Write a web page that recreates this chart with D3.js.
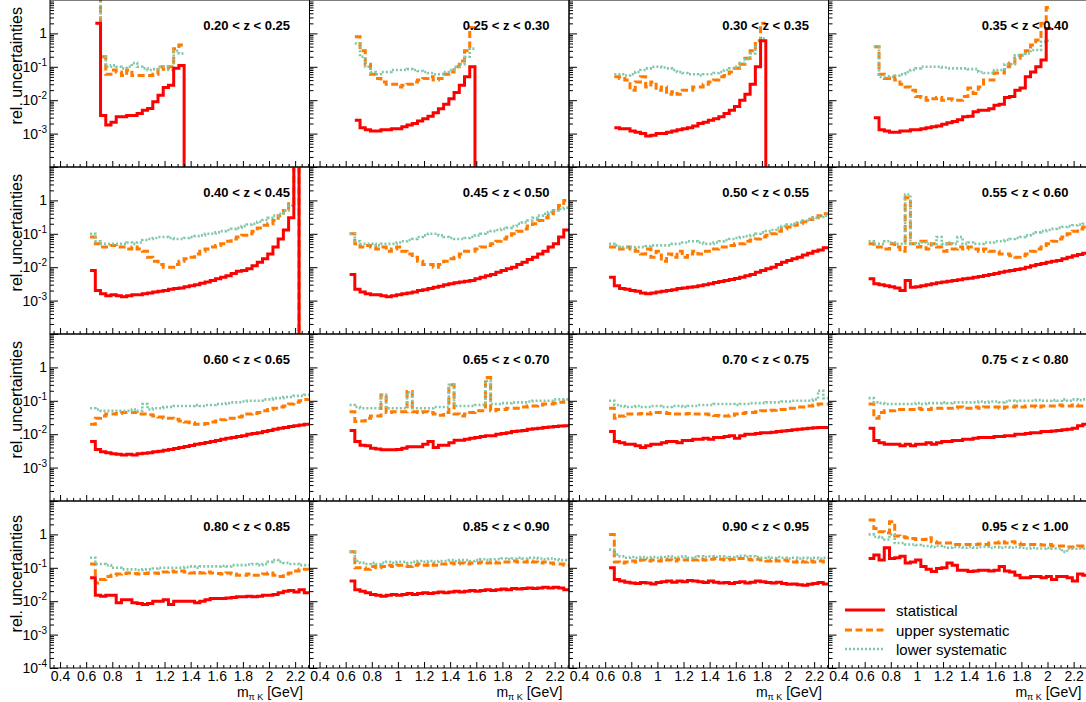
<!DOCTYPE html>
<html><head><meta charset="utf-8">
<script src="https://cdn.jsdelivr.net/npm/d3@7"></script>
<style>body{margin:0;background:#fff}svg{display:block}text{font-family:'Liberation Sans',Arial,Helvetica,sans-serif}</style>
</head><body>
<script>
// ---- data ----
const edges = [0.63,0.67,0.71,0.75,0.79,0.83,0.87,0.91,0.95,0.99,1.03,1.07,1.11,1.15,1.19,1.23,1.27,1.31,1.35,1.39,1.43,1.47,1.51,1.55,1.59,1.63,1.67,1.71,1.75,1.79,1.83,1.87,1.91,1.95,1.99,2.03,2.07,2.11,2.15,2.19,2.23,2.27,2.31];
const zLabels = ["0.20 < z < 0.25","0.25 < z < 0.30","0.30 < z < 0.35","0.35 < z < 0.40","0.40 < z < 0.45","0.45 < z < 0.50","0.50 < z < 0.55","0.55 < z < 0.60","0.60 < z < 0.65","0.65 < z < 0.70","0.70 < z < 0.75","0.75 < z < 0.80","0.80 < z < 0.85","0.85 < z < 0.90","0.90 < z < 0.95","0.95 < z < 1.00"];
const xTicks = [0.4,0.6,0.8,1.0,1.2,1.4,1.6,1.8,2.0,2.2];
const xTickLabels = ["0.4","0.6","0.8","1","1.2","1.4","1.6","1.8","2","2.2"];
const yTicks = [1,0.1,0.01,0.001,0.0001];
const yTickExp = ["","-1","-2","-3","-4"];
const legendLabels = ["statistical","upper systematic","lower systematic"];

const stat1 = [null,2.0,3.5e-3,1.8e-3,2.2e-3,3.2e-3,3.2e-3,3.5e-3,3.5e-3,4e-3,5e-3,5.6e-3,9e-3,1.4e-2,2.4e-2,2.8e-2,9e-2,0.11,1e-6];
const up1 = [null,20,0.2,0.06,0.08,0.07,0.055,0.08,0.055,0.055,0.055,0.055,0.06,0.1,0.085,0.1,0.35,0.45];
const lo1 = [null,20,0.2,0.1,0.11,0.1,0.09,0.1,0.13,0.1,0.09,0.08,0.085,0.1,0.1,0.08,0.3,0.25];

const stat2 = [null,2.5e-3,1.5e-3,1.3e-3,1.2e-3,1.2e-3,1.3e-3,1.3e-3,1.4e-3,1.4e-3,1.6e-3,1.8e-3,2.0e-3,2.4e-3,2.8e-3,3.3e-3,4.2e-3,5.5e-3,7.5e-3,1.1e-2,1.7e-2,2.8e-2,5e-2,0.1,1e-6];
const up2 = [null,0.8,0.3,0.12,0.06,0.045,0.035,0.03,0.03,0.025,0.028,0.03,0.035,0.04,0.045,0.05,0.04,0.045,0.06,0.07,0.1,0.15,0.3,1.5];
const lo2 = [null,0.5,0.2,0.1,0.07,0.06,0.07,0.07,0.08,0.08,0.08,0.085,0.08,0.075,0.07,0.065,0.06,0.06,0.07,0.08,0.1,0.12,0.2,0.35];

const stat3 = [null,1.5e-3,1.4e-3,1.4e-3,1.2e-3,1.1e-3,1.0e-3,8.5e-4,9e-4,1.0e-3,1.0e-3,1.1e-3,1.2e-3,1.3e-3,1.4e-3,1.5e-3,1.7e-3,2.0e-3,2.2e-3,2.5e-3,2.8e-3,3.2e-3,4e-3,5e-3,6.5e-3,1e-2,1.5e-2,3e-2,0.1,0.6,1e-6];
const up3 = [null,0.05,0.045,0.04,0.02,0.035,0.05,0.025,0.035,0.02,0.025,0.015,0.018,0.015,0.02,0.02,0.025,0.025,0.03,0.035,0.04,0.05,0.055,0.07,0.09,0.12,0.18,0.3,0.6,2.0];
const lo3 = [null,0.06,0.06,0.055,0.06,0.07,0.08,0.09,0.1,0.1,0.095,0.09,0.08,0.07,0.065,0.06,0.06,0.055,0.06,0.06,0.065,0.07,0.08,0.09,0.1,0.13,0.17,0.25,0.4,0.7];

const stat4 = [null,3e-3,1.3e-3,1.2e-3,1.1e-3,1.1e-3,1.2e-3,1.2e-3,1.3e-3,1.3e-3,1.4e-3,1.5e-3,1.6e-3,1.7e-3,1.9e-3,2.1e-3,2.3e-3,2.6e-3,3.2e-3,3.3e-3,4.5e-3,5e-3,5e-3,5.5e-3,7e-3,7.5e-3,1.2e-2,1.3e-2,2e-2,2.3e-2,5e-2,7e-2,0.1,0.16,1.4];
const up4 = [null,0.4,0.06,0.045,0.05,0.04,0.03,0.025,0.02,0.013,0.012,0.01,0.011,0.012,0.01,0.011,0.01,0.01,0.013,0.023,0.016,0.025,0.04,0.04,0.065,0.065,0.1,0.13,0.18,0.22,0.3,0.45,0.63,2.0,6.0];
const lo4 = [null,0.4,0.05,0.05,0.05,0.055,0.06,0.07,0.08,0.09,0.1,0.1,0.1,0.1,0.095,0.09,0.09,0.09,0.09,0.085,0.085,0.07,0.065,0.065,0.08,0.08,0.12,0.12,0.22,0.22,0.25,0.32,0.32,0.56,0.6];

const stat5 = [8e-3,2e-3,1.6e-3,1.4e-3,1.5e-3,1.4e-3,1.3e-3,1.4e-3,1.5e-3,1.5e-3,1.6e-3,1.7e-3,1.8e-3,1.9e-3,2.0e-3,2.2e-3,2.3e-3,2.4e-3,2.6e-3,2.8e-3,3e-3,3.3e-3,3.6e-3,4e-3,4.5e-3,5e-3,5.5e-3,6.5e-3,7.5e-3,8e-3,9e-3,1.1e-2,1.4e-2,1.8e-2,2.5e-2,4e-2,7e-2,0.13,0.3,30,1e-6];
const up5 = [0.08,0.05,0.04,0.04,0.045,0.04,0.04,0.035,0.04,0.035,0.03,0.02,0.015,0.012,0.01,0.01,0.012,0.015,0.018,0.02,0.025,0.03,0.035,0.04,0.045,0.05,0.06,0.07,0.08,0.09,0.1,0.12,0.15,0.18,0.2,0.25,0.35,0.5,0.8,30,1e-6];
const lo5 = [0.1,0.06,0.05,0.05,0.05,0.05,0.05,0.055,0.05,0.055,0.065,0.07,0.075,0.08,0.08,0.075,0.07,0.07,0.075,0.08,0.085,0.09,0.1,0.1,0.11,0.12,0.13,0.14,0.15,0.17,0.19,0.2,0.23,0.26,0.3,0.35,0.4,0.5,0.7];

const stat6 = [6e-3,2.2e-3,1.8e-3,1.6e-3,1.5e-3,1.5e-3,1.4e-3,1.3e-3,1.4e-3,1.5e-3,1.6e-3,1.7e-3,1.8e-3,2e-3,2.1e-3,2.3e-3,2.5e-3,2.7e-3,3e-3,3.2e-3,3.4e-3,3.6e-3,3.8e-3,4e-3,4.5e-3,5e-3,5.5e-3,6e-3,7e-3,8e-3,9e-3,1e-2,1.2e-2,1.4e-2,1.7e-2,2e-2,2.5e-2,3e-2,4e-2,5e-2,8e-2,0.13];
const up6 = [0.1,0.05,0.04,0.045,0.04,0.035,0.04,0.03,0.035,0.04,0.03,0.025,0.02,0.015,0.012,0.012,0.01,0.012,0.015,0.018,0.02,0.025,0.03,0.03,0.035,0.04,0.045,0.05,0.06,0.07,0.08,0.1,0.12,0.14,0.17,0.2,0.25,0.3,0.4,0.5,0.7,1.0];
const lo6 = [0.1,0.06,0.05,0.05,0.05,0.045,0.05,0.05,0.05,0.055,0.06,0.065,0.07,0.08,0.09,0.1,0.1,0.09,0.08,0.075,0.07,0.07,0.075,0.08,0.09,0.1,0.11,0.12,0.13,0.14,0.15,0.17,0.2,0.22,0.25,0.3,0.35,0.4,0.45,0.5,0.55,0.6];

const stat7 = [5e-3,2.8e-3,2.3e-3,2.2e-3,2e-3,1.9e-3,1.7e-3,1.6e-3,1.7e-3,1.8e-3,1.9e-3,2e-3,2.1e-3,2.3e-3,2.4e-3,2.5e-3,2.6e-3,2.8e-3,3e-3,3.2e-3,3.5e-3,3.7e-3,4e-3,4.3e-3,4.6e-3,5e-3,5.5e-3,6e-3,7e-3,8e-3,9e-3,1e-2,1.2e-2,1.4e-2,1.6e-2,1.8e-2,2e-2,2.3e-2,2.6e-2,3e-2,3.3e-2,3.8e-2];
const up7 = [0.04,0.04,0.035,0.04,0.035,0.03,0.025,0.035,0.02,0.03,0.015,0.025,0.02,0.03,0.02,0.025,0.03,0.025,0.03,0.03,0.035,0.04,0.04,0.045,0.05,0.05,0.06,0.065,0.07,0.08,0.09,0.1,0.12,0.14,0.16,0.18,0.2,0.23,0.27,0.3,0.35,0.4];
const lo7 = [0.05,0.045,0.04,0.04,0.04,0.04,0.04,0.042,0.045,0.045,0.045,0.045,0.05,0.05,0.055,0.06,0.06,0.055,0.05,0.05,0.055,0.06,0.065,0.07,0.075,0.08,0.085,0.09,0.1,0.11,0.12,0.13,0.15,0.17,0.19,0.2,0.22,0.25,0.28,0.3,0.32,0.35];

const stat8 = [4.5e-3,3.2e-3,3e-3,2.8e-3,2.6e-3,2.4e-3,2e-3,4e-3,2.5e-3,2.6e-3,2.8e-3,3e-3,3.2e-3,3.4e-3,3.6e-3,3.8e-3,4e-3,4.2e-3,4.5e-3,4.7e-3,5e-3,5.3e-3,5.6e-3,6e-3,6.5e-3,7e-3,7.5e-3,8e-3,8.5e-3,9e-3,1e-2,1.1e-2,1.2e-2,1.3e-2,1.4e-2,1.5e-2,1.6e-2,1.8e-2,2e-2,2.2e-2,2.4e-2,2.6e-2];
const up8 = [0.05,0.04,0.04,0.035,0.05,0.04,0.03,1.2,0.05,0.04,0.06,0.035,0.05,0.04,0.03,0.05,0.035,0.04,0.035,0.04,0.035,0.03,0.035,0.03,0.03,0.025,0.025,0.022,0.02,0.022,0.025,0.03,0.035,0.04,0.05,0.06,0.07,0.08,0.1,0.12,0.14,0.16];
const lo8 = [0.06,0.05,0.05,0.06,0.055,0.05,0.05,1.5,0.05,0.05,0.055,0.05,0.05,0.08,0.05,0.055,0.05,0.08,0.05,0.055,0.05,0.05,0.055,0.055,0.06,0.06,0.065,0.07,0.075,0.08,0.09,0.1,0.11,0.12,0.13,0.14,0.15,0.16,0.17,0.18,0.19,0.2];

const stat9 = [6e-3,3.5e-3,3e-3,2.8e-3,2.6e-3,2.5e-3,2.4e-3,2.5e-3,2.4e-3,2.6e-3,2.7e-3,2.8e-3,3e-3,3.1e-3,3.3e-3,3.5e-3,3.7e-3,4e-3,4.3e-3,4.6e-3,5e-3,5.3e-3,5.6e-3,6e-3,6.5e-3,7e-3,7.5e-3,8e-3,8.5e-3,9e-3,1e-2,1.05e-2,1.1e-2,1.2e-2,1.3e-2,1.4e-2,1.5e-2,1.6e-2,1.7e-2,1.8e-2,1.9e-2,2e-2];
const up9 = [0.02,0.03,0.035,0.04,0.04,0.042,0.045,0.045,0.045,0.04,0.04,0.038,0.035,0.033,0.03,0.03,0.028,0.025,0.023,0.022,0.02,0.02,0.021,0.023,0.025,0.027,0.03,0.03,0.033,0.035,0.04,0.042,0.045,0.05,0.055,0.06,0.065,0.07,0.08,0.09,0.1,0.11];
const lo9 = [0.06,0.055,0.05,0.05,0.05,0.05,0.05,0.05,0.055,0.05,0.08,0.055,0.06,0.06,0.065,0.065,0.07,0.07,0.07,0.07,0.075,0.07,0.075,0.075,0.08,0.08,0.085,0.09,0.09,0.095,0.1,0.1,0.1,0.11,0.11,0.12,0.12,0.13,0.13,0.14,0.14,0.15];

const stat10 = [1.3e-2,6e-3,4.7e-3,4.5e-3,3.8e-3,3.6e-3,3.4e-3,3.4e-3,3.4e-3,3.5e-3,3.8e-3,4.2e-3,4.2e-3,4.2e-3,5e-3,6e-3,4e-3,4.7e-3,4.7e-3,5.5e-3,6.6e-3,6.6e-3,7e-3,7.5e-3,8e-3,8.5e-3,9e-3,9e-3,1e-2,1.05e-2,1.1e-2,1.2e-2,1.25e-2,1.3e-2,1.4e-2,1.45e-2,1.5e-2,1.6e-2,1.65e-2,1.7e-2,1.75e-2,1.8e-2];
const up10 = [0.047,0.024,0.025,0.03,0.035,0.035,0.15,0.045,0.047,0.047,0.047,0.19,0.047,0.045,0.047,0.045,0.04,0.037,0.045,0.3,0.04,0.035,0.04,0.045,0.05,0.05,0.5,0.05,0.055,0.055,0.06,0.06,0.06,0.065,0.07,0.07,0.075,0.08,0.08,0.085,0.09,0.1];
const lo10 = [0.075,0.065,0.06,0.06,0.06,0.06,0.15,0.06,0.06,0.06,0.06,0.18,0.06,0.06,0.06,0.06,0.065,0.065,0.065,0.3,0.07,0.07,0.07,0.07,0.075,0.075,0.4,0.08,0.08,0.085,0.085,0.09,0.09,0.09,0.095,0.1,0.1,0.1,0.1,0.11,0.11,0.11];

const stat11 = [1.2e-2,6e-3,5.5e-3,5e-3,5e-3,4.5e-3,4e-3,4.5e-3,5e-3,5e-3,5.5e-3,6e-3,6e-3,5.5e-3,6.5e-3,6.5e-3,7e-3,7e-3,7.5e-3,7e-3,8e-3,8e-3,8.5e-3,9e-3,7.5e-3,9e-3,1e-2,1e-2,1.05e-2,1.1e-2,1.1e-2,1.15e-2,1.2e-2,1.25e-2,1.3e-2,1.35e-2,1.4e-2,1.45e-2,1.5e-2,1.55e-2,1.6e-2,1.6e-2];
const up11 = [0.06,0.03,0.035,0.04,0.04,0.04,0.042,0.04,0.045,0.045,0.045,0.042,0.04,0.04,0.04,0.042,0.04,0.04,0.04,0.038,0.036,0.035,0.035,0.037,0.04,0.042,0.045,0.045,0.047,0.05,0.05,0.052,0.055,0.055,0.06,0.06,0.065,0.065,0.07,0.075,0.08,0.08];
const lo11 = [0.1,0.075,0.07,0.065,0.065,0.07,0.065,0.065,0.07,0.07,0.065,0.065,0.07,0.07,0.065,0.07,0.07,0.075,0.075,0.075,0.08,0.08,0.08,0.08,0.075,0.08,0.08,0.085,0.085,0.085,0.09,0.09,0.09,0.095,0.095,0.1,0.1,0.1,0.1,0.11,0.2,0.12];

const stat12 = [1.5e-2,6.5e-3,5.5e-3,5e-3,5e-3,5e-3,4.5e-3,5e-3,4.5e-3,5e-3,5e-3,5.5e-3,5e-3,5.5e-3,6e-3,6e-3,6.5e-3,6.5e-3,7e-3,7e-3,7.5e-3,8e-3,8e-3,8e-3,8.5e-3,8.5e-3,9e-3,9e-3,1e-2,1e-2,1.05e-2,1.1e-2,1.1e-2,1.2e-2,1.2e-2,1.25e-2,1.3e-2,1.35e-2,1.4e-2,1.5e-2,1.8e-2,2e-2];
const up12 = [0.08,0.03,0.045,0.05,0.05,0.055,0.055,0.055,0.055,0.06,0.055,0.055,0.06,0.06,0.06,0.06,0.06,0.065,0.06,0.06,0.065,0.06,0.065,0.065,0.065,0.06,0.065,0.065,0.07,0.065,0.07,0.07,0.065,0.07,0.07,0.07,0.075,0.07,0.07,0.075,0.07,0.07];
const lo12 = [0.12,0.09,0.085,0.08,0.08,0.08,0.08,0.08,0.08,0.085,0.08,0.085,0.085,0.085,0.09,0.085,0.09,0.09,0.09,0.09,0.09,0.095,0.09,0.095,0.095,0.09,0.095,0.1,0.095,0.1,0.1,0.1,0.105,0.1,0.1,0.105,0.1,0.11,0.1,0.11,0.105,0.11];

const stat13 = [0.05,1.5e-2,1.4e-2,1.5e-2,1.5e-2,9e-3,1.1e-2,1.1e-2,9e-3,8.5e-3,8e-3,8.5e-3,1e-2,1e-2,1.1e-2,8e-3,1e-2,1e-2,1e-2,1e-2,9e-3,1e-2,1.1e-2,1.2e-2,1.2e-2,1.2e-2,1.25e-2,1.3e-2,1.35e-2,1.35e-2,1.4e-2,1.35e-2,1.4e-2,1.5e-2,1.5e-2,1.6e-2,1.8e-2,2e-2,2.1e-2,1.9e-2,2.2e-2,1.8e-2];
const up13 = [0.13,0.035,0.045,0.055,0.06,0.065,0.068,0.07,0.068,0.065,0.068,0.07,0.07,0.068,0.075,0.08,0.075,0.08,0.075,0.07,0.072,0.07,0.075,0.07,0.068,0.065,0.07,0.065,0.06,0.06,0.065,0.06,0.06,0.065,0.07,0.06,0.055,0.065,0.07,0.08,0.09,0.09];
const lo13 = [0.2,0.13,0.13,0.12,0.1,0.1,0.09,0.09,0.09,0.085,0.09,0.09,0.095,0.1,0.1,0.1,0.1,0.1,0.105,0.11,0.1,0.11,0.11,0.11,0.11,0.115,0.11,0.12,0.12,0.12,0.125,0.13,0.12,0.13,0.15,0.17,0.15,0.14,0.13,0.13,0.12,0.12];

const stat14 = [0.04,0.022,0.02,0.018,0.016,0.015,0.014,0.015,0.016,0.015,0.016,0.017,0.016,0.017,0.018,0.017,0.018,0.019,0.018,0.019,0.02,0.019,0.02,0.021,0.02,0.021,0.022,0.021,0.022,0.023,0.022,0.024,0.023,0.024,0.025,0.024,0.025,0.026,0.025,0.026,0.025,0.022];
const up14 = [0.3,0.1,0.1,0.09,0.11,0.1,0.11,0.12,0.11,0.12,0.12,0.11,0.12,0.13,0.12,0.13,0.12,0.13,0.13,0.14,0.13,0.14,0.13,0.14,0.14,0.15,0.14,0.15,0.14,0.15,0.15,0.16,0.15,0.15,0.16,0.15,0.14,0.15,0.14,0.13,0.13,0.12];
const lo14 = [0.3,0.16,0.14,0.13,0.14,0.13,0.14,0.15,0.14,0.15,0.15,0.14,0.15,0.16,0.15,0.16,0.15,0.16,0.16,0.17,0.16,0.17,0.17,0.16,0.17,0.18,0.17,0.18,0.18,0.19,0.18,0.19,0.2,0.19,0.2,0.2,0.19,0.18,0.19,0.18,0.17,0.17];

const stat15 = [0.1,0.045,0.04,0.037,0.035,0.034,0.036,0.035,0.033,0.036,0.038,0.04,0.037,0.04,0.038,0.042,0.04,0.038,0.036,0.04,0.037,0.035,0.036,0.034,0.036,0.038,0.035,0.037,0.04,0.038,0.036,0.035,0.037,0.034,0.032,0.033,0.031,0.03,0.032,0.034,0.036,0.033];
const up15 = [1.0,0.15,0.14,0.15,0.16,0.15,0.17,0.16,0.17,0.16,0.18,0.17,0.16,0.18,0.17,0.18,0.17,0.18,0.17,0.18,0.19,0.18,0.17,0.18,0.19,0.19,0.18,0.17,0.18,0.17,0.16,0.17,0.16,0.17,0.16,0.15,0.16,0.15,0.16,0.15,0.16,0.15];
const lo15 = [0.35,0.25,0.22,0.2,0.21,0.2,0.21,0.2,0.21,0.2,0.21,0.22,0.2,0.21,0.22,0.2,0.21,0.22,0.21,0.22,0.21,0.22,0.2,0.21,0.22,0.23,0.21,0.22,0.21,0.2,0.21,0.2,0.21,0.2,0.19,0.2,0.19,0.2,0.19,0.2,0.19,0.2];

const stat16 = [0.19,0.24,0.17,0.4,0.19,0.2,0.22,0.14,0.15,0.17,0.11,0.09,0.077,0.095,0.1,0.14,0.12,0.085,0.085,0.077,0.08,0.085,0.085,0.08,0.085,0.11,0.08,0.075,0.06,0.05,0.05,0.055,0.055,0.05,0.055,0.045,0.055,0.055,0.05,0.04,0.065,0.06];
const up16 = [2.7,1.5,1.2,1.1,2.4,0.9,0.85,0.8,0.75,0.7,0.7,0.8,0.6,0.55,0.55,0.55,0.5,0.5,0.5,0.5,0.5,0.52,0.5,0.55,0.55,0.6,0.55,0.6,0.55,0.5,0.5,0.5,0.5,0.48,0.5,0.45,0.45,0.45,0.42,0.42,0.45,0.42];
const lo16 = [1.0,0.85,0.8,0.7,1.0,0.55,0.55,0.5,0.5,0.48,0.45,0.45,0.42,0.45,0.42,0.4,0.42,0.42,0.4,0.42,0.4,0.42,0.42,0.4,0.42,0.4,0.42,0.4,0.42,0.4,0.38,0.4,0.38,0.38,0.4,0.38,0.38,0.3,0.38,0.37,0.38,0.38];

const statSeries = [stat1,stat2,stat3,stat4,stat5,stat6,stat7,stat8,stat9,stat10,stat11,stat12,stat13,stat14,stat15,stat16];
const upSeries = [up1,up2,up3,up4,up5,up6,up7,up8,up9,up10,up11,up12,up13,up14,up15,up16];
const loSeries = [lo1,lo2,lo3,lo4,lo5,lo6,lo7,lo8,lo9,lo10,lo11,lo12,lo13,lo14,lo15,lo16];

// ---- layout / style ----
const W = 1086, H = 702;
const colX = [50, 309.5, 569, 828.5], rowY = [0, 167, 334, 501];
const pw = 259.5, ph = 167;
const RED = "#ff0000", ORANGE = "#ff7a00", TEAL = "#7fc7a7";
const styles = [
  {color: ORANGE, width: 3, dash: "7,3.5"},
  {color: TEAL, width: 2.6, dash: "2,2"},
  {color: RED, width: 3, dash: null}
];

const svg = d3.select("body").append("svg").attr("width", W).attr("height", H);
svg.append("rect").attr("width", W).attr("height", H).attr("fill", "#fff");

const x = d3.scaleLinear().domain([0.323, 2.31]).range([0, pw]);
const y = d3.scaleLog().domain([1e-4, 10]).range([ph, 0]);

const xMinor = d3.range(0.35, 2.31, 0.05).filter(v => xTicks.every(t => Math.abs(t - v) > 1e-6));
const yMinor = [];
[1e-4, 1e-3, 1e-2, 1e-1, 1].forEach(d => { for (let k = 2; k <= 9; k++) { if (d * k < 10) yMinor.push(d * k); } });

const line = d3.line().defined(d => d !== null).x(d => x(d[0])).y(d => y(d[1]));
function stepPts(vals) {
  const pts = [];
  vals.forEach((v, i) => {
    if (v === null || v === undefined) { pts.push(null); return; }
    pts.push([edges[i], v], [edges[i + 1], v]);
  });
  return pts;
}

for (let p = 0; p < 16; p++) {
  const r = Math.floor(p / 4), c = p % 4;
  const g = svg.append("g").attr("transform", `translate(${colX[c]},${rowY[r]})`);
  const cid = "clip" + p;
  g.append("clipPath").attr("id", cid).append("rect").attr("x", 0).attr("y", 0).attr("width", pw).attr("height", ph);
  const plot = g.append("g").attr("clip-path", `url(#${cid})`);
  [upSeries[p], loSeries[p], statSeries[p]].forEach((vals, si) => {
    const st = styles[si];
    plot.append("path").attr("d", line(stepPts(vals)))
      .attr("fill", "none").attr("stroke", st.color).attr("stroke-width", st.width)
      .attr("stroke-dasharray", st.dash).attr("stroke-linejoin", "miter").attr("stroke-linecap", "butt");
  });

  // axes
  const xa = g.append("g").attr("transform", `translate(0,${ph})`)
    .call(d3.axisBottom(x).tickValues(xTicks).tickSize(-6).tickPadding(3)
      .tickFormat((d, i) => r === 3 ? xTickLabels[i] : ""));
  xa.select(".domain").remove();
  xa.selectAll("text").attr("font-size", 14).attr("font-family", "'Liberation Sans',Arial,sans-serif").attr("fill", "#000");
  const xm = g.append("g").attr("transform", `translate(0,${ph})`)
    .call(d3.axisBottom(x).tickValues(xMinor).tickSize(-3).tickFormat(""));
  xm.select(".domain").remove();

  const ya = g.append("g").call(d3.axisLeft(y).tickValues(yTicks).tickSize(-8).tickFormat(""));
  ya.select(".domain").remove();
  const ym = g.append("g").call(d3.axisLeft(y).tickValues(yMinor).tickSize(-4).tickFormat(""));
  ym.select(".domain").remove();
  g.selectAll(".tick line").attr("stroke", "#000").attr("stroke-width", 1);

  g.append("rect").attr("x", 0).attr("y", 0).attr("width", pw).attr("height", ph)
    .attr("fill", "none").attr("stroke", "#000").attr("stroke-width", 1);

  // z label
  g.append("text").attr("x", 240).attr("y", 30).attr("text-anchor", "end")
    .attr("font-size", 13).attr("font-weight", "bold").text(zLabels[p]);

  // y tick labels
  if (c === 0) {
    yTicks.forEach((v, i) => {
      if (i === 4 && r !== 3) return;
      const t = g.append("text").attr("x", -3).attr("y", y(v) + 5).attr("text-anchor", "end").attr("font-size", 14);
      if (yTickExp[i] === "") t.text("1");
      else {
        t.append("tspan").text("10");
        t.append("tspan").attr("font-size", 10).attr("dy", -6).text(yTickExp[i]);
      }
    });
    const ty = r === 3 ? 14 : 7;
    g.append("text").attr("transform", `translate(-28,${ty}) rotate(-90)`).attr("text-anchor", "end")
      .attr("font-size", 16).text("rel. uncertainties");
  }

  // x title
  if (r === 3) {
    const t = g.append("text").attr("x", 253).attr("y", ph + 29).attr("text-anchor", "end").attr("font-size", 14);
    t.append("tspan").text("m");
    t.append("tspan").attr("font-size", 9).attr("dy", 3).text("π K");
    t.append("tspan").attr("dy", -3).text(" [GeV]");
  }

  // legend
  if (p === 15) {
    const ly = [109, 129, 148];
    [2, 0, 1].forEach((si, k) => {
      const st = styles[si];
      g.append("line").attr("x1", 16.5).attr("x2", 56.5).attr("y1", ly[k]).attr("y2", ly[k])
        .attr("stroke", st.color).attr("stroke-width", st.width).attr("stroke-dasharray", st.dash);
      g.append("text").attr("x", 67.5).attr("y", ly[k] + 5.5).attr("font-size", 15).text(legendLabels[k]);
    });
  }
}
</script>
</body></html>
